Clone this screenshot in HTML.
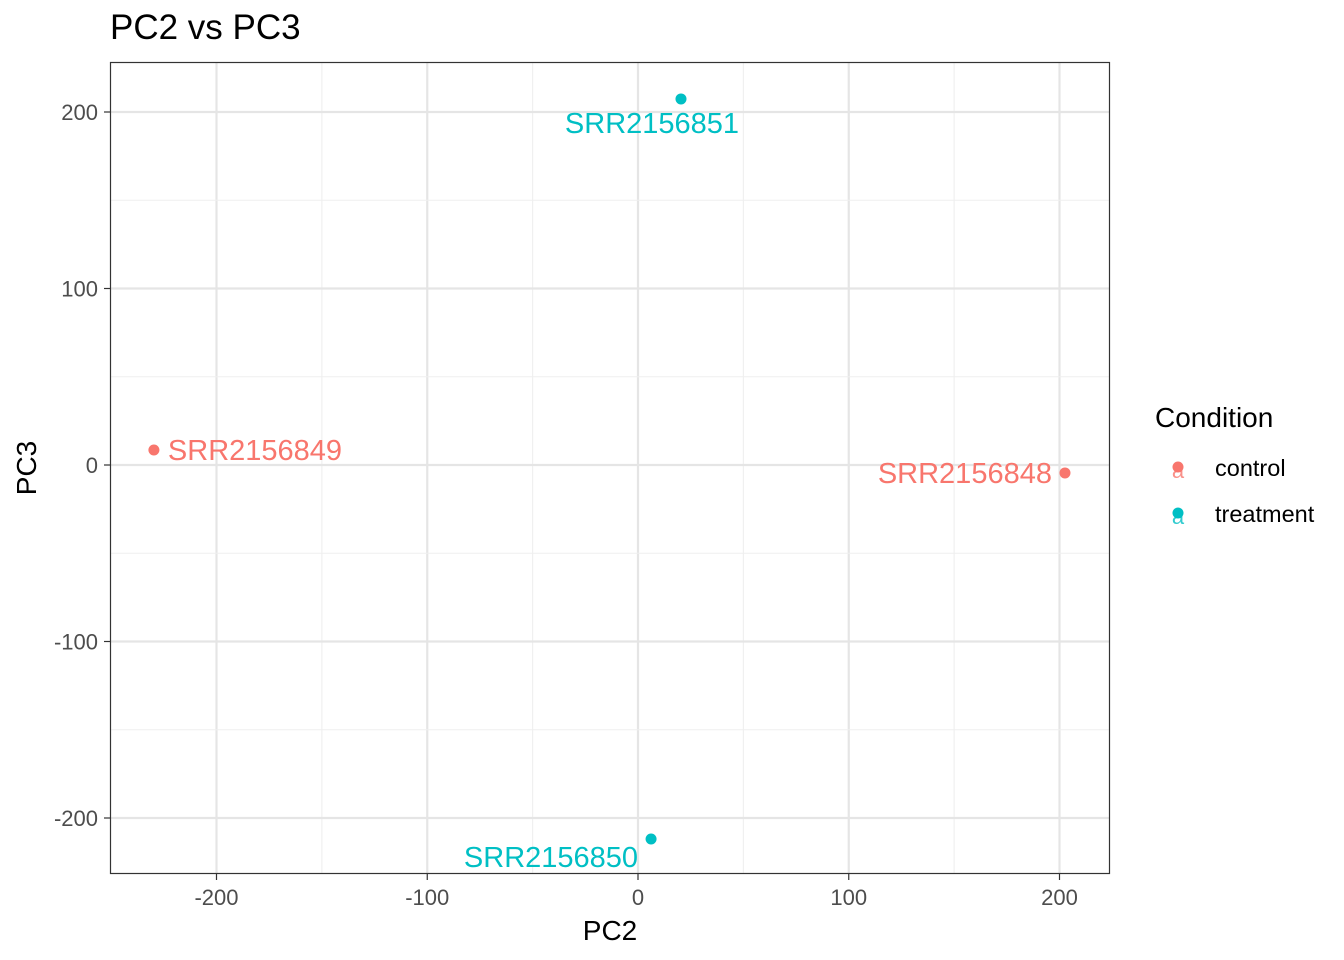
<!DOCTYPE html>
<html><head><meta charset="utf-8"><style>
body{margin:0;background:#fff;}
svg{display:block;font-family:"Liberation Sans",Arial,sans-serif;}
</style></head><body>
<svg id="chart" width="1344" height="960" viewBox="0 0 1344 960">
<rect x="0" y="0" width="1344" height="960" fill="#fff"/>
<text x="110" y="39" font-size="35" fill="#000">PC2 vs PC3</text>
<g id="grid"></g>
<g id="marks"></g>
<rect x="110.5" y="62.5" width="999" height="811" fill="none" stroke="#333" stroke-width="1.2"/>
<g id="axes"></g>
<text x="610" y="940" font-size="28" text-anchor="middle">PC2</text>
<text x="0" y="0" font-size="28" text-anchor="middle" transform="translate(36,468) rotate(-90)">PC3</text>
<g>
<text x="1155" y="427" font-size="28">Condition</text>
<g>
<text x="1178" y="478" font-size="22" text-anchor="middle" fill="#F8766D" opacity="0.8">a</text>
<circle cx="1178" cy="467" r="5.5" fill="#F8766D"/>
<text x="1215" y="476" font-size="23.5">control</text></g>
<g>
<text x="1178" y="524" font-size="22" text-anchor="middle" fill="#00BFC4" opacity="0.8">a</text>
<circle cx="1178" cy="513" r="5.5" fill="#00BFC4"/>
<text x="1215" y="522" font-size="23.5">treatment</text></g>
</g>
</svg>
<script>
const samples=["SRR2156849","SRR2156848","SRR2156851","SRR2156850"];
const pc2=[-229.7,202.6,20.4,6.2];
const pc3=[8.5,-4.5,207.4,-211.9];
const conditions=["control","control","treatment","treatment"];
const xTicks=[-200,-100,0,100,200];
const yTicks=[-200,-100,0,100,200];
const colors={control:"#F8766D",treatment:"#00BFC4"};
const X=v=>638+v*2.1075;
const Y=v=>465-v*1.765;
const NS="http://www.w3.org/2000/svg";
function mk(t,a,p){const e=document.createElementNS(NS,t);for(const k in a)e.setAttribute(k,a[k]);p.appendChild(e);return e;}
const grid=document.getElementById('grid'),axes=document.getElementById('axes'),marks=document.getElementById('marks');
for(let i=0;i<xTicks.length;i++){
 const v=xTicks[i];
 const l=mk('line',{x1:X(v),x2:X(v),y1:62,y2:874,stroke:'#e5e5e5','stroke-width':2.2},grid);
 
 
 if(i<xTicks.length-1){const m=(v+xTicks[i+1])/2;
 const ml=mk('line',{x1:X(m),x2:X(m),y1:62,y2:874,stroke:'#efefef','stroke-width':1.1},grid);
 
 }
 mk('line',{x1:X(v),x2:X(v),y1:874,y2:880,stroke:'#333','stroke-width':1.2},axes);
 const t=mk('text',{x:X(v),y:905,'font-size':22,'text-anchor':'middle',fill:'#4d4d4d'},axes);
 t.textContent=v;
 
 
}
for(let i=0;i<yTicks.length;i++){
 const v=yTicks[i];
 const l=mk('line',{x1:110,x2:1110,y1:Y(v),y2:Y(v),stroke:'#e5e5e5','stroke-width':2.2},grid);
 
 
 if(i<yTicks.length-1){const m=(v+yTicks[i+1])/2;
 const ml=mk('line',{x1:110,x2:1110,y1:Y(m),y2:Y(m),stroke:'#efefef','stroke-width':1.1},grid);
 
 }
 mk('line',{x1:104,x2:110,y1:Y(v),y2:Y(v),stroke:'#333','stroke-width':1.2},axes);
 const t=mk('text',{x:98,y:Y(v)+8,'font-size':22,'text-anchor':'end',fill:'#4d4d4d'},axes);
 t.textContent=v;
 
 
}
const labelOff=[[14,10,'start'],[-13,10,'end'],[-29,34,'middle'],[-13,28,'end']];
for(let i=0;i<samples.length;i++){
 const c=colors[conditions[i]];
 const p=mk('circle',{cx:X(pc2[i]),cy:Y(pc3[i]),r:5.5,fill:c},marks);
 
 
 const o=labelOff[i];
 const t=mk('text',{x:X(pc2[i])+o[0],y:Y(pc3[i])+o[1],'font-size':29,'text-anchor':o[2],fill:c},marks);
 t.textContent=samples[i];
 
 
}
</script>
</body></html>
